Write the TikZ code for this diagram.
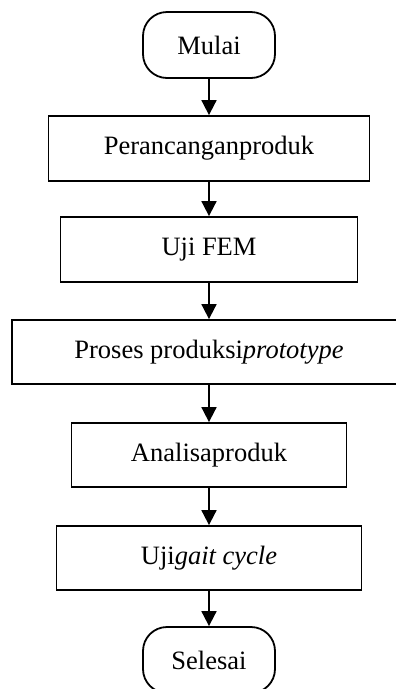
\documentclass[tikz,border=0pt]{standalone}
\usepackage{fontspec}
\setmainfont{Liberation Serif}
\usetikzlibrary{arrows.meta}
\begin{document}
\begin{tikzpicture}[x=1pt,y=-1pt,
 box/.style={draw, line width=1.8pt, inner sep=0pt, font=\fontsize{26.5}{30}\selectfont},
 term/.style={box, rounded corners=24pt, minimum width=132pt, minimum height=66pt},
 arr/.style={line width=1.8pt, -{Triangle[width=15pt,length=15pt]}}]
\useasboundingbox (0,0) rectangle (396,689);
\node[term] (mulai) at (209,45) {Mulai};
\node[box, minimum width=321pt, minimum height=65pt] (b2) at (209,148.5) {Perancanganproduk};
\node[box, minimum width=297pt, minimum height=65pt] (b3) at (209,249.5) {Uji FEM};
\node[box, minimum width=394pt, minimum height=64pt] (b4) at (209,352) {Proses produksi\textit{prototype}};
\node[box, minimum width=275pt, minimum height=64pt] (b5) at (209,455) {Analisaproduk};
\node[box, minimum width=305pt, minimum height=64pt] (b6) at (209,558) {Uji\textit{gait cycle}};
\node[term] (sel) at (209,660) {Selesai};
\draw[arr] (mulai) -- (b2);
\draw[arr] (b2) -- (b3);
\draw[arr] (b3) -- (b4);
\draw[arr] (b4) -- (b5);
\draw[arr] (b5) -- (b6);
\draw[arr] (b6) -- (sel);
\end{tikzpicture}
\end{document}
